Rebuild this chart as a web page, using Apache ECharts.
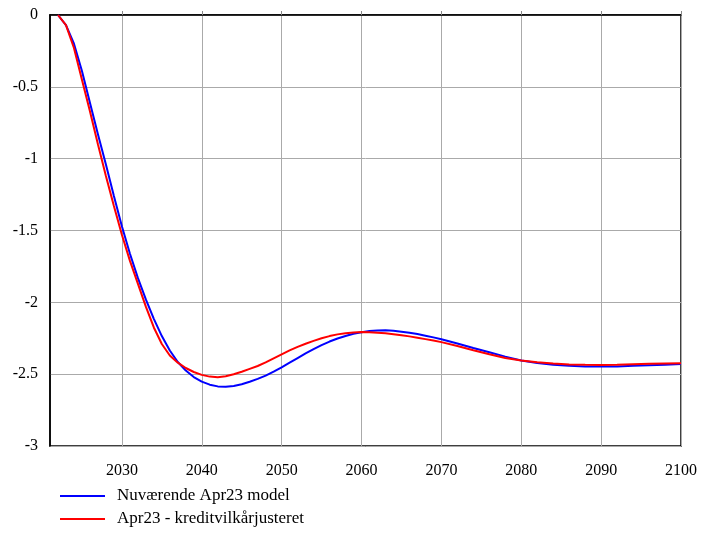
<!DOCTYPE html>
<html>
<head>
<meta charset="utf-8">
<script src="https://cdn.jsdelivr.net/npm/echarts@6/dist/echarts.min.js"></script>
<style>html,body{margin:0;padding:0;background:#fff;}#c{width:702px;height:534px;}</style>
</head>
<body>
<div id="c"></div>
<script>
var years = [2022,2023,2024,2025,2026,2027,2028,2029,2030,2031,2032,2033,2034,2035,2036,2037,2038,2039,2040,2041,2042,2043,2044,2045,2046,2047,2048,2049,2050,2051,2052,2053,2054,2055,2056,2057,2058,2059,2060,2061,2062,2063,2064,2065,2066,2067,2068,2069,2070,2072,2074,2076,2078,2080,2082,2084,2086,2088,2090,2092,2094,2096,2098,2100];
var blueValues = [0,-0.07,-0.20,-0.39,-0.61,-0.83,-1.04,-1.26,-1.47,-1.66,-1.83,-1.98,-2.115,-2.235,-2.335,-2.415,-2.475,-2.52,-2.552,-2.573,-2.585,-2.588,-2.582,-2.57,-2.553,-2.533,-2.51,-2.482,-2.452,-2.42,-2.388,-2.356,-2.326,-2.298,-2.273,-2.252,-2.234,-2.219,-2.208,-2.20,-2.196,-2.195,-2.198,-2.204,-2.212,-2.221,-2.232,-2.244,-2.257,-2.287,-2.318,-2.348,-2.378,-2.405,-2.423,-2.434,-2.441,-2.446,-2.447,-2.446,-2.442,-2.438,-2.434,-2.43];
var redValues = [0,-0.07,-0.23,-0.45,-0.67,-0.90,-1.12,-1.33,-1.53,-1.71,-1.87,-2.03,-2.175,-2.29,-2.37,-2.42,-2.457,-2.485,-2.505,-2.517,-2.521,-2.515,-2.501,-2.483,-2.463,-2.443,-2.418,-2.39,-2.362,-2.335,-2.31,-2.288,-2.268,-2.25,-2.235,-2.223,-2.215,-2.21,-2.207,-2.208,-2.211,-2.216,-2.222,-2.229,-2.237,-2.246,-2.256,-2.266,-2.277,-2.304,-2.333,-2.361,-2.387,-2.405,-2.417,-2.426,-2.432,-2.435,-2.436,-2.434,-2.431,-2.428,-2.426,-2.424];
var xTicks = [2030,2040,2050,2060,2070,2080,2090,2100];
var seriesNames = ['Nuværende Apr23 model','Apr23 - kreditvilkårjusteret'];

function pairs(v){ return years.map(function(y,i){ return [y, v[i]]; }); }

var chart = echarts.init(document.getElementById('c'), null, {renderer:'canvas'});
var font = 'Liberation Serif';
function legendAt(name, top){
  return {
    orient: 'vertical', left: 55, top: top, itemWidth: 45, itemHeight: 2, itemGap: 0,
    icon: 'rect', selectedMode: false,
    textStyle: {fontFamily: font, fontSize: 17, lineHeight: 18, color: '#000', padding: [0,0,0,7]},
    data: [name]
  };
}
chart.setOption({
  animation: false,
  backgroundColor: '#fff',
  grid: {left: 50, right: 21, top: 15, bottom: 88, show: true, borderColor: '#000', borderWidth: 1.5},
  xAxis: {
    type: 'value', min: 2021, max: 2100,
    axisLine: {show: true, lineStyle: {color: '#000', width: 1.5}},
    axisTick: {show: true, inside: true, length: 4, customValues: xTicks, lineStyle: {color: '#888'}},
    axisLabel: {customValues: xTicks, color: '#000', fontFamily: font, fontSize: 16, margin: 17,
      formatter: function(v){ return String(v); }},
    splitLine: {show: true, lineStyle: {color: '#aaa', width: 1}}
  },
  yAxis: {
    type: 'value', min: -3, max: 0, interval: 0.5,
    axisLine: {show: true, lineStyle: {color: '#000', width: 1.5}},
    axisTick: {show: false},
    axisLabel: {color: '#000', fontFamily: font, fontSize: 16, margin: 12, padding: [4,0,0,0]},
    splitLine: {show: true, lineStyle: {color: '#aaa', width: 1}}
  },
  legend: [legendAt(seriesNames[0], 482), legendAt(seriesNames[1], 505)],
  series: [
    {name: seriesNames[0], type: 'line', data: pairs(blueValues), showSymbol: false, symbol: 'none', smooth: false, lineStyle: {color: '#0000ff', width: 2}, itemStyle: {color: '#0000ff'}},
    {name: seriesNames[1], type: 'line', data: pairs(redValues), showSymbol: false, symbol: 'none', smooth: false, lineStyle: {color: '#ff0000', width: 2}, itemStyle: {color: '#ff0000'}}
  ]
});
</script>
</body>
</html>
